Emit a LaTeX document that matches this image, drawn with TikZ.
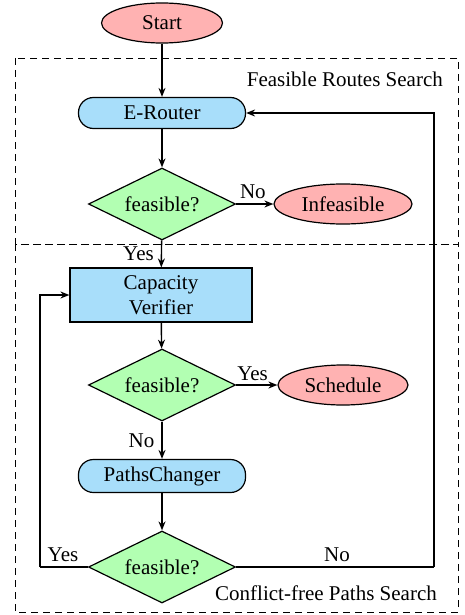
\documentclass[tikz,border=0pt]{standalone}
\usepackage{fontspec}
\setmainfont{Liberation Serif}
\usetikzlibrary{shapes.geometric,arrows.meta}
\definecolor{redfill}{RGB}{255,178,178}
\definecolor{bluefill}{RGB}{168,222,250}
\definecolor{greenfill}{RGB}{178,255,178}
\begin{document}
\begin{tikzpicture}[x=1pt,y=1pt,
  every node/.style={font=\rmfamily\fontsize{21}{25}\selectfont},
  base/.style={draw, line width=1.2pt, inner sep=0pt},
  terminal/.style={base, ellipse, fill=redfill},
  process/.style={base, rectangle, rounded corners=15pt, fill=bluefill, minimum width=167pt},
  boxproc/.style={base, rectangle, fill=bluefill, align=center},
  decision/.style={base, diamond, aspect=2.04, fill=greenfill, minimum width=147pt, minimum height=72pt},
  conn/.style={line width=1.4pt, -{Stealth[length=9pt,width=7pt]}},
  plain/.style={line width=1.4pt},
  region/.style={draw, line width=0.9pt, dash pattern=on 7pt off 5pt},
  lbl/.style={inner sep=1pt}]
\useasboundingbox (0,0) rectangle (464,-615);
% regions
\draw[region] (15,-58) rectangle (458,-244);
\draw[region] (15,-244) rectangle (458,-612);
\node[lbl, anchor=east] (t1) at (444,-79) {Feasible Routes Search};
\node[lbl, anchor=east] (t2) at (438,-593) {Conflict-free Paths Search};
% nodes
\node[terminal, minimum width=121pt, minimum height=40pt] (start) at (162,-23) {Start};
\node[process, minimum height=31pt] (erouter) at (162,-113) {E-Router};
\node[decision] (d1) at (162,-204) {feasible?};
\node[terminal, minimum width=138pt, minimum height=40pt] (infeas) at (343,-204) {Infeasible};
\node[boxproc, minimum width=182pt, minimum height=54pt] (cap) at (161,-295) {Capacity\\Verifier};
\node[decision] (d2) at (162,-385) {feasible?};
\node[terminal, minimum width=130pt, minimum height=40pt] (sched) at (343,-385) {Schedule};
\node[process, minimum height=33pt] (paths) at (162,-476) {PathsChanger};
\node[decision] (d3) at (162,-567) {feasible?};
\coordinate (rtop) at (434,-113);
\coordinate (rbot) at (434,-567);
\coordinate (ltop) at (40,-295);
\coordinate (lbot) at (40,-567);
% connectors
\draw[conn] (start) -- (erouter);
\draw[conn] (erouter) -- (d1);
\draw[conn] (d1) -- node[lbl, above=4pt, pos=0.45] (no1) {No} (infeas);
\draw[conn] (d1) -- node[lbl, left=6pt, pos=0.5] (yes1) {Yes} (cap);
\draw[conn] (cap) -- (d2);
\draw[conn] (d2) -- node[lbl, above=3pt, pos=0.4] (yes2) {Yes} (sched);
\draw[conn] (d2) -- node[lbl, left=6pt, pos=0.5] (no2) {No} (paths);
\draw[conn] (paths) -- (d3);
\draw[plain] (d3.east) -- node[lbl, above=4pt, pos=0.51] (no3) {No} (rbot);
\draw[conn] (rbot) -- (rtop) -- (erouter.east);
\draw[plain] (d3.west) -- node[lbl, above=4pt, pos=0.52] (yes3) {Yes} (lbot);
\draw[conn] (lbot) -- (ltop) -- (cap.west);
\end{tikzpicture}
\end{document}
